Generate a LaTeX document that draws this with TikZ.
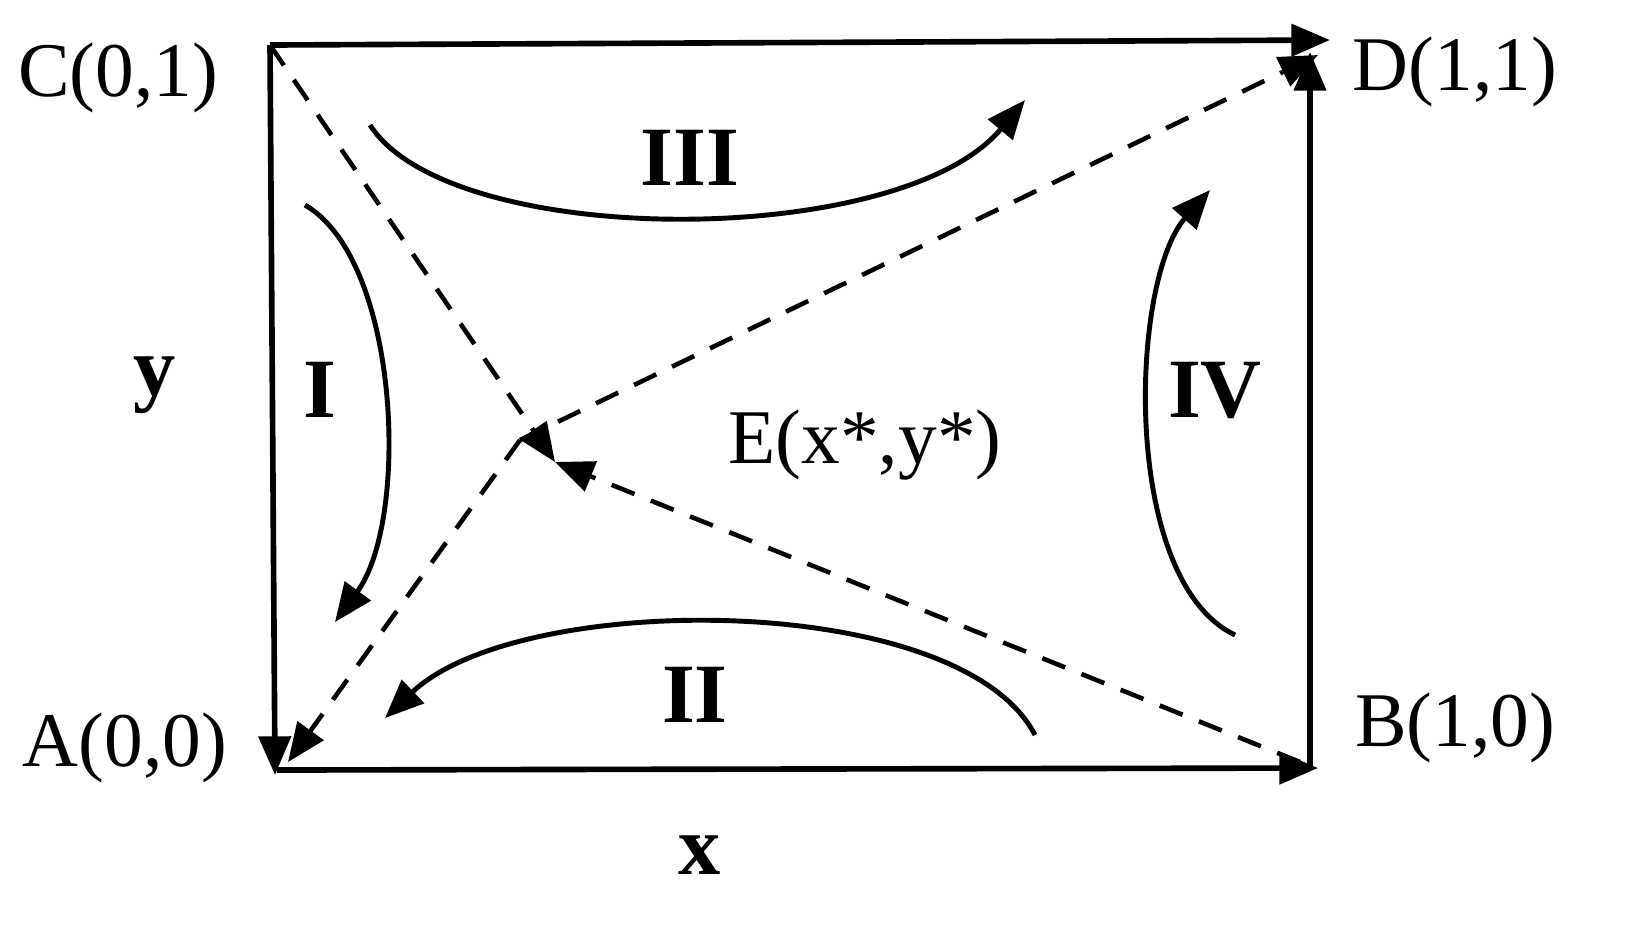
\documentclass[tikz,border=0pt]{standalone}
\usepackage{fontspec}
\setmainfont{Liberation Serif}
\usetikzlibrary{arrows.meta}
\begin{document}
\begin{tikzpicture}[x=0.01cm,y=-0.01cm,
  ln/.style={line width=1.6pt,-{Triangle[length=11pt,width=9pt]}},
  dl/.style={line width=1.3pt,dashed,dash pattern=on 7pt off 5pt,-{Triangle[length=11pt,width=9pt]}},
  cv/.style={line width=1.4pt,-{Triangle[length=11pt,width=9pt]}},
  lab/.style={font=\fontsize{22}{26}\selectfont},
  rl/.style={font=\fontsize{24}{28}\selectfont\bfseries}]
\useasboundingbox (0,0) rectangle (1646,950);
\coordinate (C) at (270,45);
\coordinate (D) at (1330,40);
\coordinate (Dr) at (1310,52);
\coordinate (A) at (275,775);
\coordinate (B) at (1318,768);
\coordinate (E) at (520,440);
\coordinate (Ea) at (555,462);
\draw[ln] (C) -- (D);
\draw[ln] (1310,768) -- (Dr);
\draw[ln] (C) -- (A);
\draw[ln] (277,770) -- (B);
\draw[dl] (C) -- (Ea);
\draw[dl] (1300,762) -- (Ea);
\draw[dl] (E) -- (1318,55);
\draw[dl] (E) -- (288,762);
\draw[cv] (370,125) .. controls (450,250) and (900,250) .. (1025,100);
\draw[cv] (305,205) .. controls (400,260) and (410,520) .. (335,622);
\draw[cv] (1035,735) .. controls (960,590) and (520,590) .. (385,718);
\draw[cv] (1235,635) .. controls (1120,580) and (1130,280) .. (1210,190);
\node[lab] (lc) at (118,78) {C(0,1)};
\node[lab] (ld) at (1455,72) {D(1,1)};
\node[lab] (la) at (125,748) {A(0,0)};
\node[lab] (lb) at (1455,728) {B(1,0)};
\node[lab] (le) at (865,445) {E(x*,y*)};
\node[rl] (ly) at (155,385) {y};
\node[rl] (lx) at (700,855) {x};
\node[rl] (l1) at (320,390) {I};
\node[rl] (l2) at (695,695) {II};
\node[rl] (l3) at (690,158) {III};
\node[rl] (l4) at (1215,390) {IV};
\end{tikzpicture}
\end{document}
